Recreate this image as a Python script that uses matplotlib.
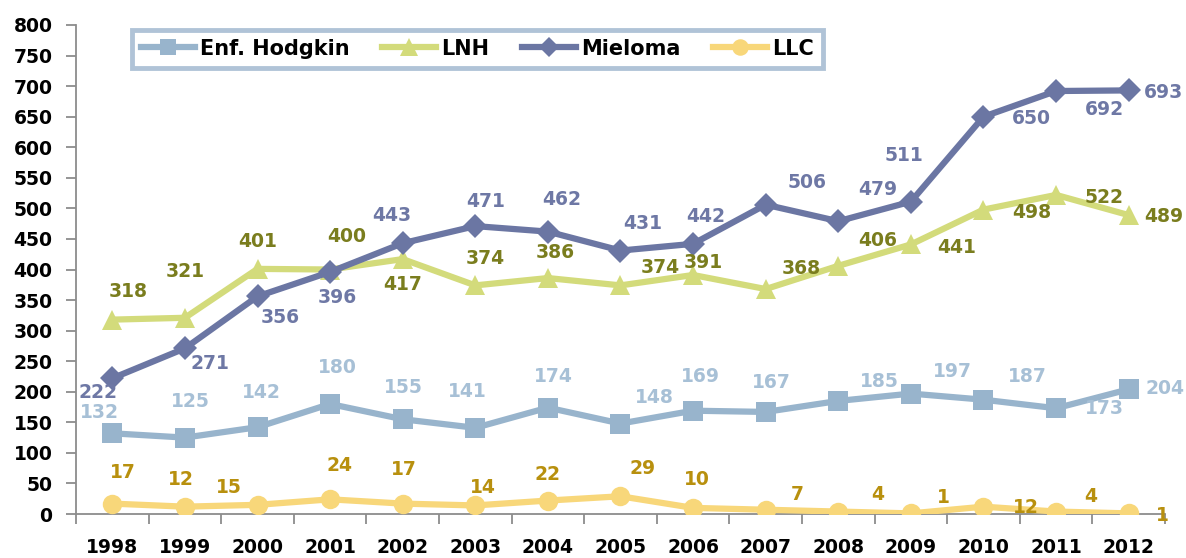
import matplotlib
matplotlib.use("Agg")
import matplotlib.pyplot as plt

years = ["1998", "1999", "2000", "2001", "2002", "2003", "2004", "2005",
         "2006", "2007", "2008", "2009", "2010", "2011", "2012"]
hodgkin = [132, 125, 142, 180, 155, 141, 174, 148, 169, 167, 185, 197, 187, 173, 204]
lnh = [318, 321, 401, 400, 417, 374, 386, 374, 391, 368, 406, 441, 498, 522, 489]
mieloma = [222, 271, 356, 396, 443, 471, 462, 431, 442, 506, 479, 511, 650, 692, 693]
llc = [17, 12, 15, 24, 17, 14, 22, 29, 10, 7, 4, 1, 12, 4, 1]
series_names = ["Enf. Hodgkin", "LNH", "Mieloma", "LLC"]
yticks = list(range(0, 801, 50))

# label offsets in pixels (dx right, dy down) -- styling only
off_h = [(-13, -21), (5, -36), (4, -35), (7, -36), (1, -32), (-8, -36), (5, -31), (34, -26),
         (7, -34), (6, -29), (41, -19), (42, -22), (44, -23), (48, 0), (36, -1)]
off_l = [(16, -28), (0, -46), (0, -27), (17, -33), (0, 25), (10, -27), (7, -26), (40, -18),
         (10, -13), (36, -21), (39, -25), (46, 3), (48, 3), (48, 3), (35, 1)]
off_m = [(-14, 14), (25, 15), (23, 21), (7, 26), (-11, -28), (10, -25), (14, -32), (22, -27),
         (13, -27), (41, -22), (39, -32), (-7, -46), (48, 2), (48, 18), (35, 2)]
off_c = [(11, -31), (-4, -27), (-29, -17), (9, -34), (1, -34), (8, -18), (0, -26), (22, -28),
         (4, -28), (32, -15), (39, -17), (32, -16), (42, 1), (35, -15), (34, 2)]

FONT = "DejaVu Sans"
fig = plt.figure(figsize=(11.86, 5.58), dpi=100)
ax = fig.add_axes([76 / 1186, 44 / 558, (1165 - 76) / 1186, (514 - 25) / 558])

x = list(range(len(years)))
styles = [
    (hodgkin, "#98B4CC", "#A7C0D6", "s", 14, off_h),
    (lnh, "#D3DB7B", "#7A7D1E", "^", 15, off_l),
    (mieloma, "#6B76A3", "#6E78A5", "D", 12, off_m),
    (llc, "#F8D77A", "#B8900E", "o", 14, off_c),
]
handles = []
for (vals, lc, tc, mk, ms, offs), name in zip(styles, series_names):
    h, = ax.plot(x, vals, color=lc, lw=4.5, marker=mk, markersize=ms,
                 markeredgewidth=0, label=name, zorder=3)
    handles.append(h)
for (vals, lc, tc, mk, ms, offs) in styles:
    for xi, v, (dx, dy) in zip(x, vals, offs):
        ax.annotate(str(v), (xi, v), xytext=(dx, -dy), textcoords="offset pixels",
                    ha="center", va="center", fontsize=13.5, fontweight="bold",
                    color=tc, family=FONT, zorder=4)

ax.set_xlim(-0.5, len(years) - 0.5)
ax.set_ylim(0, 800)
ax.set_yticks(yticks)
ax.set_yticklabels([str(t) for t in yticks], fontsize=13.5, fontweight="bold", family=FONT)
ax.set_xticks(x)
ax.set_xticklabels(years, fontsize=13.5, fontweight="bold", family=FONT)
ax.set_xticks([i - 0.5 for i in range(len(years) + 1)], minor=True)
ax.tick_params(axis="x", which="major", length=0, pad=17)
ax.tick_params(axis="x", which="minor", length=7, width=1.3, color="#8C8C8C", direction="out")
ax.tick_params(axis="y", length=7, width=1.3, color="#8C8C8C", pad=10)
for s in ["top", "right"]:
    ax.spines[s].set_visible(False)
for s in ["left", "bottom"]:
    ax.spines[s].set_color("#8C8C8C")
    ax.spines[s].set_linewidth(1.3)

leg = fig.legend(handles=handles, loc="upper left",
                 bbox_to_anchor=(132 / 1186, 1 - 30 / 558), ncol=4,
                 prop={"family": FONT, "weight": "bold", "size": 15},
                 frameon=True, fancybox=False, handlelength=2.6, handletextpad=0.25,
                 columnspacing=1.55, borderpad=0.42, borderaxespad=0, markerscale=0.85)
leg.get_frame().set_edgecolor("#9DB5CE")
leg.get_frame().set_linewidth(3.5)

fig.savefig("out.png", dpi=100)
